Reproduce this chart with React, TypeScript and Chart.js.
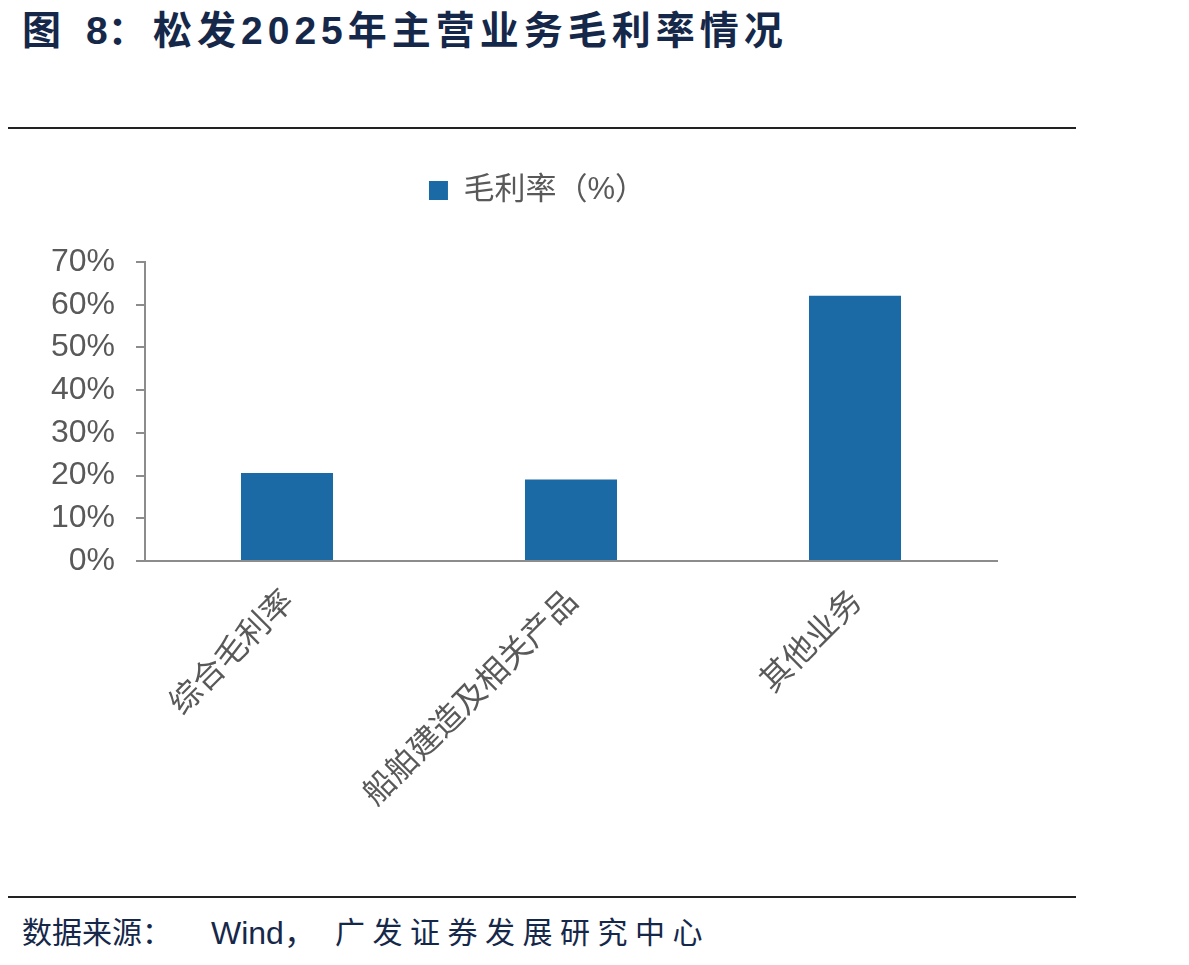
import React, { useEffect, useRef } from "react";
import { Chart, registerables } from "chart.js";

Chart.register(...registerables);

const categories = ["综合毛利率", "船舶建造及相关产品", "其他业务"];
const grossMargin = [20.6, 19.1, 62.1];
const seriesName = "毛利率（%）";
const yTicks = [0, 10, 20, 30, 40, 50, 60, 70];

const BAR_COLOR = "#1b6aa5";
const AXIS_COLOR = "#8c8c8c";
const TEXT_GRAY = "#595959";
const NAVY = "#16284a";

export default function App() {
  const canvasRef = useRef<HTMLCanvasElement | null>(null);

  useEffect(() => {
    if (!canvasRef.current) return;
    const chart = new Chart(canvasRef.current, {
      type: "bar",
      data: {
        labels: categories,
        datasets: [
          {
            label: seriesName,
            data: grossMargin,
            backgroundColor: BAR_COLOR,
            borderWidth: 0,
            barPercentage: 0.324,
            categoryPercentage: 1,
            yAxisID: "y",
          },
        ],
      },
      options: {
        animation: false,
        responsive: false,
        maintainAspectRatio: false,
        devicePixelRatio: 1,
        layout: { padding: { left: 40, right: 45, top: 25, bottom: 0 } },
        plugins: {
          legend: {
            display: true,
            position: "top",
            labels: {
              color: TEXT_GRAY,
              font: { family: "'Liberation Sans', 'Noto Sans CJK SC'", size: 31 },
              boxWidth: 19,
              boxHeight: 19,
              padding: 10,
            },
          },
          subtitle: {
            display: true,
            text: " ",
            weight: 0,
            font: { size: 10 },
            padding: { top: 0, bottom: 34 },
          } as any,
          tooltip: { enabled: false },
        },
        scales: {
          x: {
            grid: { display: false },
            border: { display: true, color: AXIS_COLOR, width: 2 },
            ticks: {
              color: TEXT_GRAY,
              font: { family: "'Noto Sans CJK SC'", size: 32 },
              minRotation: 45,
              maxRotation: 45,
              autoSkip: false,
              padding: 12,
            },
            afterFit: (scale: any) => {
              scale.height = 310;
            },
          },
          y: {
            position: "left",
            min: 0,
            max: 70,
            afterBuildTicks: (scale: any) => {
              scale.ticks = yTicks.map((v) => ({ value: v }));
            },
            grid: {
              display: true,
              drawOnChartArea: false,
              drawTicks: true,
              tickLength: 9,
              color: AXIS_COLOR,
              lineWidth: 2,
            },
            border: { display: true, color: AXIS_COLOR, width: 2 },
            ticks: {
              color: TEXT_GRAY,
              font: { family: "'Liberation Sans', Arial", size: 32 },
              padding: 21,
              callback: (v: any) => `${v}%`,
            },
            afterFit: (scale: any) => {
              scale.width = 105;
            },
          },
          spacer: {
            type: "linear",
            position: "right",
            display: true,
            grid: { display: false },
            border: { display: false },
            ticks: { display: false },
            afterFit: (scale: any) => {
              scale.width = 38;
            },
          },
        },
      },
    });
    return () => chart.destroy();
  }, []);

  const titleFont = "'Liberation Sans', 'Noto Sans CJK SC', sans-serif";

  return (
    <div
      style={{
        position: "absolute",
        left: 0,
        top: 0,
        width: 1189,
        height: 965,
        background: "#ffffff",
        overflow: "hidden",
      }}
    >
      <div
        style={{
          position: "absolute",
          left: 0,
          top: 8,
          width: 1189,
          height: 50,
          fontFamily: titleFont,
          fontWeight: "bold",
          fontSize: 39,
          lineHeight: "46px",
          color: NAVY,
          whiteSpace: "pre",
        }}
      >
        <span style={{ position: "absolute", left: 22 }}>图</span>
        <span style={{ position: "absolute", left: 86 }}>8：</span>
        <span style={{ position: "absolute", left: 153, letterSpacing: 5 }}>
          松发2025年主营业务毛利率情况
        </span>
      </div>
      <div
        style={{
          position: "absolute",
          left: 8,
          top: 127,
          width: 1068,
          height: 2,
          background: "#222222",
        }}
      />
      <canvas
        ref={canvasRef}
        width={1080}
        height={731}
        style={{ position: "absolute", left: 0, top: 140, width: 1080, height: 731 }}
      />
      <div
        style={{
          position: "absolute",
          left: 8,
          top: 896,
          width: 1068,
          height: 2,
          background: "#222222",
        }}
      />
      <div
        style={{
          position: "absolute",
          left: 0,
          top: 914,
          width: 1189,
          height: 40,
          fontFamily: titleFont,
          fontSize: 30,
          lineHeight: "38px",
          color: NAVY,
          whiteSpace: "pre",
        }}
      >
        <span style={{ position: "absolute", left: 22 }}>数据来源：</span>
        <span style={{ position: "absolute", left: 211, fontSize: 32 }}>Wind，</span>
        <span style={{ position: "absolute", left: 335, letterSpacing: 7.5 }}>
          广发证券发展研究中心
        </span>
      </div>
    </div>
  );
}
